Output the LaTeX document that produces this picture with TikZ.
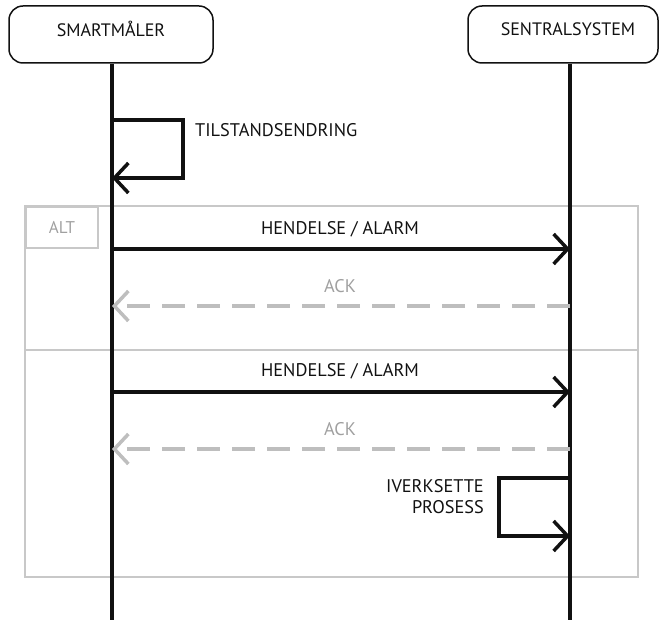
\documentclass[tikz,border=0pt]{standalone}
\usepackage{fontspec}
\setmainfont{PT Sans}
\usetikzlibrary{arrows.meta}
\definecolor{ink}{HTML}{111111}
\definecolor{frame}{HTML}{C8C8C8}
\definecolor{acklin}{HTML}{BEBEBE}
\definecolor{acktxt}{HTML}{A0A0A0}
\tikzset{
  headbox/.style={draw=ink, line width=1.5pt, rounded corners=14pt, minimum width=204pt, minimum height=57pt, inner sep=0pt},
  headtxt/.style={font=\fontsize{18}{20}\selectfont, text=ink, inner sep=0pt},
  lifeline/.style={draw=ink, line width=3.5pt},
  msg/.style={draw=ink, line width=3.5pt, -{Straight Barb[length=14pt, width=30pt]}, line join=miter},
  ack/.style={draw=acklin, line width=3.5pt, dash pattern=on 23pt off 12pt, -{Straight Barb[length=14pt, width=30pt]}},
  msgtxt/.style={font=\fontsize{18.3}{21}\selectfont, text=ink, inner sep=0pt},
  acktext/.style={font=\fontsize{18.3}{21}\selectfont, text=acktxt, inner sep=0pt},
  altframe/.style={draw=frame, line width=1.8pt},
}
\begin{document}
\begin{tikzpicture}[x=1pt, y=-1pt]
\useasboundingbox (0,0) rectangle (659,620);

% participants
\node[headbox] (sm) at (111,34.5) {};
\node[headtxt] (smt) at (111,29) {SMARTMÅLER};
\node[headbox, minimum width=190pt] (cs) at (563,34.5) {};
\node[headtxt] (cst) at (568,29) {SENTRALSYSTEM};

\coordinate (smEnd) at (112,620);
\coordinate (csEnd) at (570,620);

% combined fragment
\draw[altframe] (25,206) rectangle (638,577);
\node[draw=frame, line width=1.8pt, minimum width=72pt, minimum height=41pt, anchor=north west, inner sep=0pt,
      font=\fontsize{17}{19}\selectfont, text=acktxt] (alt) at (25,206) {ALT};
\coordinate (divL) at (25,350);
\coordinate (divR) at (638,350);
\draw[altframe] (divL) -- (divR);

% lifelines
\draw[lifeline] (sm.south -| smEnd) -- (smEnd);
\draw[lifeline] (cs.south -| csEnd) -- (csEnd);

% self message on the meter
\coordinate (s1) at (112,120);
\coordinate (s2) at (112,178);
\draw[msg] (s1) -- (183,120) -- (183,178) -- (s2);
\node[msgtxt, anchor=west] (tilst) at (195,130) {TILSTANDSENDRING};

% first alternative
\coordinate (a1) at (112,249);
\coordinate (b1) at (570,249);
\draw[msg] (a1) -- (b1);
\node[msgtxt] (h1) at (340,229) {HENDELSE / ALARM};
\coordinate (a2) at (112,306);
\coordinate (b2) at (570,306);
\draw[ack] (b2) -- (a2);
\node[acktext] (k1) at (340,286) {ACK};

% second alternative
\coordinate (a3) at (112,392);
\coordinate (b3) at (570,392);
\draw[msg] (a3) -- (b3);
\node[msgtxt] (h2) at (340,371) {HENDELSE / ALARM};
\coordinate (a4) at (112,449);
\coordinate (b4) at (570,449);
\draw[ack] (b4) -- (a4);
\node[acktext] (k2) at (340,429) {ACK};

% self message on the central system
\coordinate (c1) at (570,478);
\coordinate (c2) at (570,536);
\draw[msg] (c1) -- (499,478) -- (499,536) -- (c2);
\node[msgtxt, anchor=north east, align=right] (iv) at (484,479) {IVERKSETTE\\PROSESS};
\end{tikzpicture}
\end{document}
